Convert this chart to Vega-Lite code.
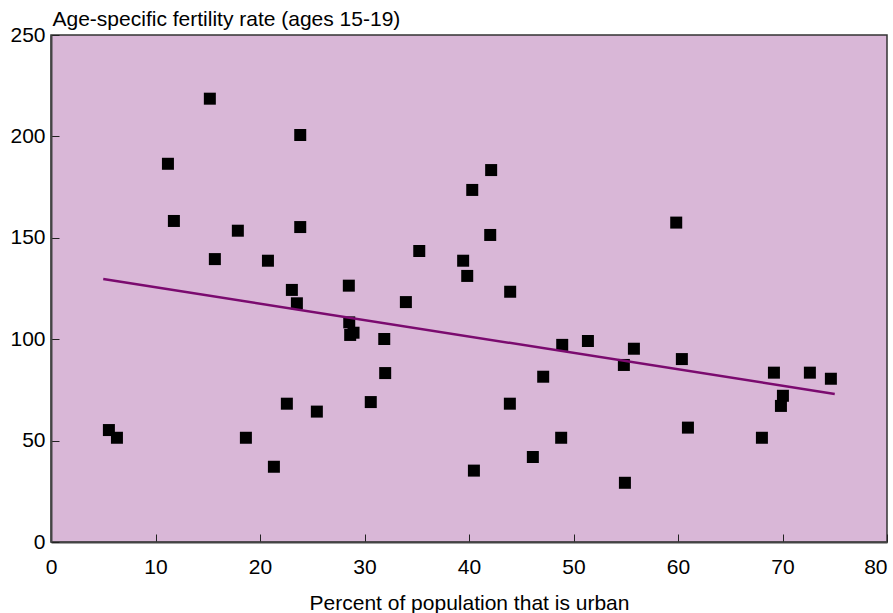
{
  "$schema": "https://vega.github.io/schema/vega-lite/v6.json",
  "width": 836,
  "height": 507,
  "autosize": "none",
  "padding": {"left": 51, "top": 35, "right": 6, "bottom": 71},
  "background": "white",
  "config": {
    "view": {"fill": "#d9b7d7", "stroke": "#333333", "strokeWidth": 1.5},
    "font": "Liberation Sans",
    "axis": {
      "grid": false,
      "domainColor": "#444444",
      "domainWidth": 2,
      "tickColor": "#222222",
      "tickWidth": 1,
      "tickSize": -8,
      "labelFont": "Liberation Sans",
      "labelFontSize": 21,
      "labelColor": "#000000",
      "titleFont": "Liberation Sans",
      "titleFontSize": 21,
      "titleFontWeight": "normal",
      "titleColor": "#000000"
    }
  },
  "datasets": {
    "points": [
      {"urban": 15.2, "fertility": 218.6},
      {"urban": 23.85, "fertility": 200.7},
      {"urban": 11.19, "fertility": 186.5},
      {"urban": 11.76, "fertility": 158.3},
      {"urban": 17.88, "fertility": 153.5},
      {"urban": 23.85, "fertility": 155.3},
      {"urban": 15.68, "fertility": 139.5},
      {"urban": 20.76, "fertility": 138.7},
      {"urban": 23.05, "fertility": 124.3},
      {"urban": 23.53, "fertility": 117.7},
      {"urban": 5.54, "fertility": 55.2},
      {"urban": 6.31, "fertility": 51.4},
      {"urban": 18.65, "fertility": 51.4},
      {"urban": 22.57, "fertility": 68.2},
      {"urban": 25.44, "fertility": 64.3},
      {"urban": 21.33, "fertility": 37.1},
      {"urban": 42.12, "fertility": 183.4},
      {"urban": 40.31, "fertility": 173.6},
      {"urban": 42.03, "fertility": 151.4},
      {"urban": 35.24, "fertility": 143.5},
      {"urban": 39.44, "fertility": 138.7},
      {"urban": 39.83, "fertility": 131.2},
      {"urban": 28.5, "fertility": 126.4},
      {"urban": 43.94, "fertility": 123.4},
      {"urban": 33.96, "fertility": 118.3},
      {"urban": 28.54, "fertility": 108.3},
      {"urban": 28.63, "fertility": 102.1},
      {"urban": 28.95, "fertility": 103.2},
      {"urban": 31.89, "fertility": 100.1},
      {"urban": 31.98, "fertility": 83.3},
      {"urban": 30.6, "fertility": 69.0},
      {"urban": 48.92, "fertility": 97.2},
      {"urban": 51.38, "fertility": 99.1},
      {"urban": 47.1, "fertility": 81.5},
      {"urban": 43.91, "fertility": 68.2},
      {"urban": 48.82, "fertility": 51.4},
      {"urban": 46.11, "fertility": 41.9},
      {"urban": 40.47, "fertility": 35.2},
      {"urban": 55.78, "fertility": 95.3},
      {"urban": 54.82, "fertility": 87.3},
      {"urban": 60.37, "fertility": 90.2},
      {"urban": 69.18, "fertility": 83.5},
      {"urban": 72.62, "fertility": 83.5},
      {"urban": 74.63, "fertility": 80.5},
      {"urban": 70.04, "fertility": 72.1},
      {"urban": 69.85, "fertility": 67.1},
      {"urban": 60.95, "fertility": 56.4},
      {"urban": 68.03, "fertility": 51.4},
      {"urban": 54.92, "fertility": 29.2},
      {"urban": 59.83, "fertility": 157.5}
    ],
    "fit": [
      {"urban": 5.0, "fertility": 129.7},
      {"urban": 75.0, "fertility": 73.0}
    ]
  },
  "layer": [
    {
      "data": {"name": "points"},
      "mark": {"type": "point", "shape": "square", "filled": true, "color": "#000000", "opacity": 1, "size": 144},
      "encoding": {
        "x": {
          "field": "urban", "type": "quantitative",
          "scale": {"domain": [0, 80], "nice": false, "zero": false},
          "axis": {
            "title": "Percent of population that is urban",
            "values": [0, 10, 20, 30, 40, 50, 60, 70, 80],
            "labelPadding": 22,
            "labelFlush": false,
            "labelAlign": {"expr": "datum.value == 80 ? 'right' : 'center'"},
            "labelDx": {"expr": "datum.value == 80 ? 3 : 0"},
            "titleBaseline": "alphabetic",
            "titleY": 67
          }
        },
        "y": {
          "field": "fertility", "type": "quantitative",
          "scale": {"domain": [0, 250], "nice": false, "zero": false},
          "axis": {
            "title": "Age-specific fertility rate (ages 15-19)",
            "values": [0, 50, 100, 150, 200, 250],
            "labelPadding": 14,
            "labelFlush": false,
            "titleAngle": 0,
            "titleAlign": "left",
            "titleBaseline": "alphabetic",
            "titleX": 1,
            "titleY": -10
          }
        }
      }
    },
    {
      "data": {"name": "fit"},
      "mark": {"type": "line", "color": "#7b0a6f", "strokeWidth": 2.5},
      "encoding": {
        "x": {"field": "urban", "type": "quantitative"},
        "y": {"field": "fertility", "type": "quantitative"}
      }
    }
  ]
}
